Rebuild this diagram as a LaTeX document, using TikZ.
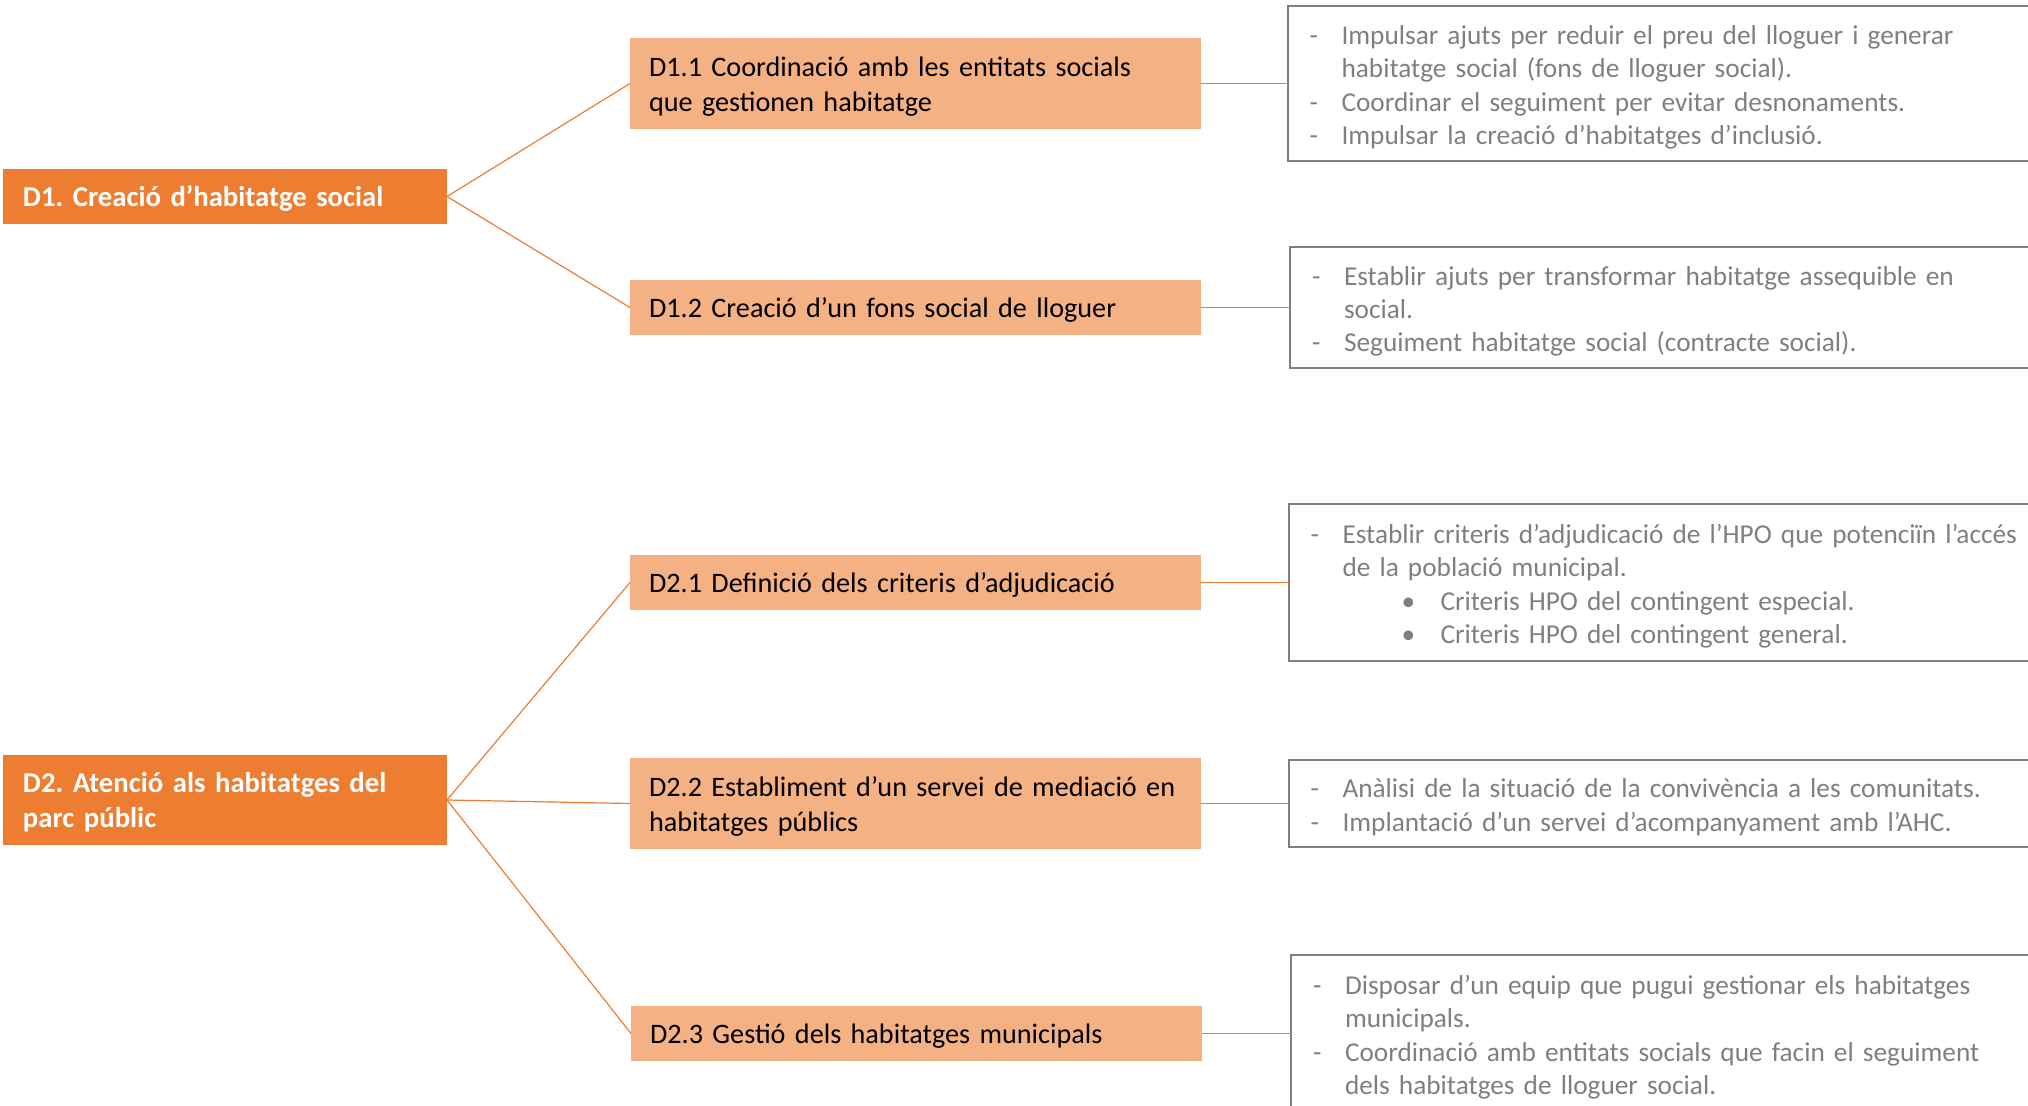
\documentclass[tikz,border=0pt]{standalone}
\usepackage{fontspec}
\setmainfont{Carlito}
\frenchspacing
\usetikzlibrary{positioning}
\definecolor{taronja}{HTML}{ED7D31}
\definecolor{taronjaclar}{HTML}{F4B183}
\definecolor{gristext}{HTML}{7F7F7F}
\newcommand{\guio}{\makebox[16pt][l]{-}}
\newcommand{\segueix}{\hspace*{16pt}}
\newcommand{\vinyeta}{\hspace*{45.5pt}\makebox[19.5pt][l]{\textbullet}}
\newcommand{\puntaldalt}{\rule{0pt}{13pt}}
\newcommand{\puntalbaix}{\rule[-2.8pt]{0pt}{2.8pt}}
\newcommand{\grisdalt}{\rule{0pt}{14pt}}
\newcommand{\grisbaix}{\rule[-3pt]{0pt}{3pt}}
\tikzset{
  eix/.style={fill=taronja, text=white, font=\fontsize{14.35pt}{17.5pt}\selectfont\bfseries,
    minimum width=222pt, text width=202pt, inner xsep=10pt, inner ysep=0pt,
    outer sep=0pt, align=left, execute at begin node=\puntaldalt, execute at end node=\puntalbaix},
  accio/.style={fill=taronjaclar, text=black, font=\fontsize{14.1pt}{17.5pt}\selectfont,
    minimum width=285.5pt, text width=266.5pt, inner xsep=9.5pt, inner ysep=0pt,
    outer sep=0pt, align=left, execute at begin node=\puntaldalt, execute at end node=\puntalbaix},
  llista/.style={draw=gristext, line width=1pt, text=gristext,
    font=\fontsize{13.65pt}{16.65pt}\selectfont, text width=372pt, inner xsep=11pt,
    inner ysep=0pt, outer sep=0pt, align=left,
    execute at begin node=\grisdalt, execute at end node=\grisbaix},
  enllac/.style={draw=taronja, line width=0.6pt},
  enllacd/.style={draw=taronja, line width=0.8pt}
}
\begin{document}
\begin{tikzpicture}
\useasboundingbox (0pt,0pt) rectangle (1014pt,-553pt);
% eixos
\node [eix, minimum height=27.5pt] (D1) at (112.5pt,-98.25pt) {D1. Creació d’habitatge social};
\node [eix, minimum height=45pt] (D2) at (112.5pt,-400pt) {D2. Atenció als habitatges del\\parc públic};
% accions
\node [accio, minimum height=45.5pt] (D11) at (457.75pt,-41.75pt) {D1.1 Coordinació amb les entitats socials\\que gestionen habitatge};
\node [accio, minimum height=27.5pt] (D12) at (457.75pt,-153.75pt) {D1.2 Creació d’un fons social de lloguer};
\node [accio, minimum height=27.5pt] (D21) at (457.75pt,-291.25pt) {D2.1 Definició dels criteris d’adjudicació};
\node [accio, minimum height=45.5pt] (D22) at (457.75pt,-401.75pt) {D2.2 Establiment d’un servei de mediació en\\habitatges públics};
\node [accio, minimum height=27.5pt] (D23) at (458.25pt,-516.75pt) {D2.3 Gestió dels habitatges municipals};
% llistes
\node [llista, minimum height=77.5pt, right=43.25pt of D11] (L11) {\guio Impulsar ajuts per reduir el preu del lloguer i generar\\\segueix habitatge social (fons de lloguer social).\\\guio Coordinar el seguiment per evitar desnonaments.\\\guio Impulsar la creació d’habitatges d’inclusió.};
\node [llista, minimum height=60.5pt, right=44.5pt of D12] (L12) {\guio Establir ajuts per transformar habitatge assequible en\\\segueix social.\\\guio Seguiment habitatge social (contracte social).};
\node [llista, minimum height=78pt, right=43.75pt of D21] (L21) {\guio Establir criteris d’adjudicació de l’HPO que potenciïn l’accés\\\segueix de la població municipal.\\\vinyeta Criteris HPO del contingent especial.\\\vinyeta Criteris HPO del contingent general.};
\node [llista, minimum height=43.5pt, right=43.75pt of D22] (L22) {\guio Anàlisi de la situació de la convivència a les comunitats.\\\guio Implantació d’un servei d’acompanyament amb l’AHC.};
\node [llista, minimum height=78.5pt, right=44.5pt of D23] (L23) {\guio Disposar d’un equip que pugui gestionar els habitatges\\\segueix municipals.\\\guio Coordinació amb entitats socials que facin el seguiment\\\segueix dels habitatges de lloguer social.};
\draw [enllac] (D1.east) -- (D11.west);
\draw [enllac] (D1.east) -- (D12.west);
\draw [enllac] (D2.east) -- (D21.west);
\draw [enllac] (D2.east) -- (D22.west);
\draw [enllac] (D2.east) -- (D23.west);
\draw [enllacd] (D11.east) -- (L11.west);
\draw [enllacd] (D12.east) -- (L12.west);
\draw [enllacd] (D21.east) -- (L21.west);
\draw [enllacd] (D22.east) -- (L22.west);
\draw [enllacd] (D23.east) -- (L23.west);
\end{tikzpicture}
\end{document}
